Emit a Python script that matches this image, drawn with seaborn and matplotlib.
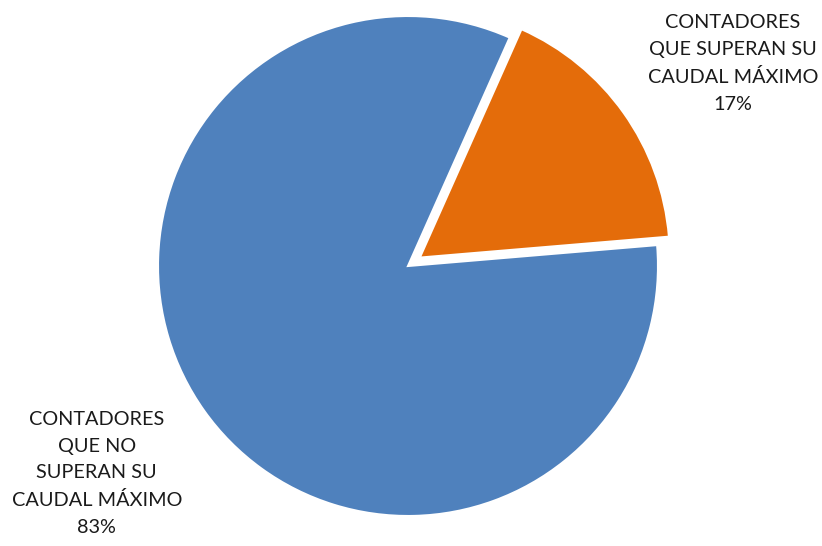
import matplotlib
matplotlib.use("Agg")
import matplotlib.pyplot as plt
import seaborn as sns

sns.set_style("white")
plt.rcParams["font.family"] = ["Lato", "DejaVu Sans"]

categories = ["CONTADORES\nQUE SUPERAN SU\nCAUDAL MÁXIMO",
              "CONTADORES\nQUE NO\nSUPERAN SU\nCAUDAL MÁXIMO"]
shares = [17, 83]
colors = ["#E46C0A", "#4F81BD"]
explode = [0.058, 0.0]

fig = plt.figure(figsize=(8.22, 5.46), dpi=100)
ax = fig.add_axes([158 / 822, 30 / 546, 500 / 822, 500 / 546])

wedges, _ = ax.pie(shares, colors=colors, explode=explode, startangle=66,
                   counterclock=False, radius=1.0,
                   wedgeprops=dict(edgecolor="white", linewidth=1.5))
for w in wedges:
    w.set_clip_on(False)
ax.set_xlim(-1, 1)
ax.set_ylim(-1, 1)
ax.set_aspect("equal")
ax.axis("off")

label_pos = [(1.30, 0.81), (-1.245, -0.83)]
for name, val, (x, y) in zip(categories, shares, label_pos):
    ax.text(x, y, f"{name}\n{val}%", ha="center", va="center",
            fontsize=14.3, color="#1a1a1a", linespacing=1.68)

fig.savefig("out.png", dpi=100, facecolor="white")
